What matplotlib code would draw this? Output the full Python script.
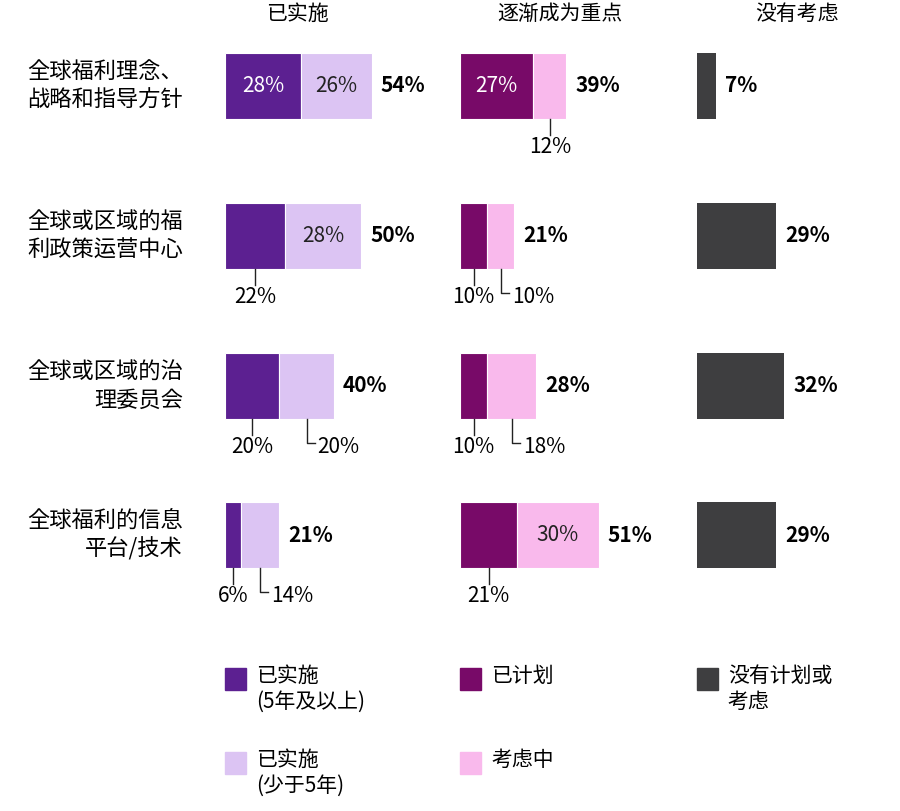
import matplotlib
matplotlib.use("Agg")
import matplotlib.pyplot as plt
from matplotlib.patches import Rectangle
from matplotlib import font_manager as fm

cands = [f for f in fm.findSystemFonts() if "CJK" in f or "Noto Sans SC" in f]
fam = "DejaVu Sans"
for f in sorted(cands, key=lambda s: ("SC" not in s, s)):
    try:
        fm.fontManager.addfont(f)
        fam = fm.FontProperties(fname=f).get_name()
        break
    except Exception:
        pass
plt.rcParams["font.family"] = [fam, "Noto Sans CJK SC", "DejaVu Sans"]

rows = ["全球福利理念、\n战略和指导方针", "全球或区域的福\n利政策运营中心", "全球或区域的治\n理委员会", "全球福利的信息\n平台/技术"]
headers = ["已实施", "逐渐成为重点", "没有考虑"]
impl_5plus = [28, 22, 20, 6]
impl_less5 = [26, 28, 20, 14]
impl_total = [54, 50, 40, 21]
planned = [27, 10, 10, 21]
considering = [12, 10, 18, 30]
focus_total = [39, 21, 28, 51]
not_considered = [7, 29, 32, 29]

C1, C2, C3, C4, C5 = "#5c2091", "#dcc4f3", "#780a68", "#f9b9ec", "#3e3e40"
S = 2.72
starts = [225, 460, 697]
ycent = [86, 236, 386, 535]
H = 66
fs = 15

fig = plt.figure(figsize=(9, 8.11), dpi=100)
ax = fig.add_axes([0, 0, 1, 1])
ax.set_xlim(0, 900); ax.set_ylim(811, 0); ax.axis("off")

for x, h in zip([297, 560, 797], headers):
    ax.text(x, 14, h, ha="center", va="center", fontsize=fs)

def below_first(xc, y, v):
    ax.plot([xc, xc], [y + H/2, y + H/2 + 16], color="#222", lw=1)
    ax.text(xc, y + H/2 + 28, f"{v}%", ha="center", va="center", fontsize=fs)

def below_second(xc, y, v):
    ax.plot([xc, xc, xc + 8], [y + H/2, y + H/2 + 24, y + H/2 + 24], color="#222", lw=1)
    ax.text(xc + 11, y + H/2 + 28, f"{v}%", ha="left", va="center", fontsize=fs)

for i, y in enumerate(ycent):
    ax.text(183, y, rows[i], ha="right", va="center", fontsize=16, linespacing=1.3)
    for p, (a, b, tot, ca, cb) in enumerate([(impl_5plus[i], impl_less5[i], impl_total[i], C1, C2),
                                             (planned[i], considering[i], focus_total[i], C3, C4)]):
        x0 = starts[p]
        ax.barh(y, a * S, left=x0, height=H, color=ca, edgecolor="white", linewidth=0.8)
        ax.barh(y, b * S, left=x0 + a * S, height=H, color=cb, edgecolor="white", linewidth=0.8)
        if a >= 25:
            ax.text(x0 + a*S/2, y, f"{a}%", color="white", ha="center", va="center", fontsize=fs)
        else:
            below_first(x0 + a*S/2, y, a)
        if b >= 25:
            ax.text(x0 + a*S + b*S/2, y, f"{b}%", color="#222", ha="center", va="center", fontsize=fs)
        elif a >= 25:
            below_first(x0 + a*S + b*S/2, y, b)
        else:
            below_second(x0 + a*S + b*S/2, y, b)
        ax.text(x0 + (a+b)*S + 9, y, f"{tot}%", ha="left", va="center", fontsize=fs, fontweight="bold")
    v = not_considered[i]
    ax.barh(y, v * S, left=starts[2], height=H, color=C5)
    ax.text(starts[2] + v*S + 9, y, f"{v}%", ha="left", va="center", fontsize=fs, fontweight="bold")

legend = [(225, 679, C1, "已实施\n(5年及以上)"), (460, 679, C3, "已计划"), (697, 679, C5, "没有计划或\n考虑"),
          (225, 763, C2, "已实施\n(少于5年)"), (460, 763, C4, "考虑中")]
for x, y, c, t in legend:
    ax.add_patch(Rectangle((x, y - 11), 21, 22, color=c))
    ax.text(x + 31, y - 14, t, ha="left", va="top", fontsize=fs, linespacing=1.25)

fig.savefig("out.png", dpi=100)
